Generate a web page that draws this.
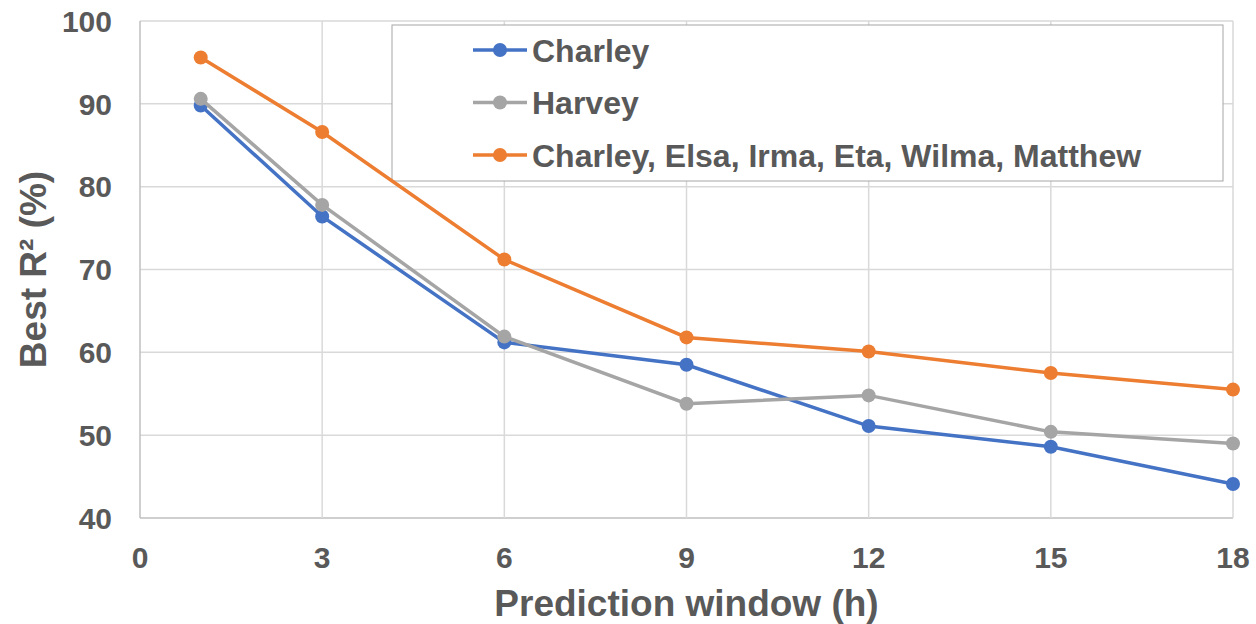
<!DOCTYPE html>
<html>
<head>
<meta charset="utf-8">
<script src="https://cdn.jsdelivr.net/npm/d3@7"></script>
<style>
  body { margin: 0; background: #fff; }
  text { font-family: 'Liberation Sans', Arial, sans-serif; font-weight: bold; fill: #595959; }
</style>
</head>
<body>
<div id="chart"></div>
<script>
const hours = [1, 3, 6, 9, 12, 15, 18]
const seriesNames = ['Charley', 'Harvey', 'Charley, Elsa, Irma, Eta, Wilma, Matthew']
const charley = [89.8, 76.4, 61.2, 58.5, 51.1, 48.6, 44.1]
const harvey = [90.6, 77.8, 61.9, 53.8, 54.8, 50.4, 49.0]
const combined = [95.6, 86.6, 71.2, 61.8, 60.1, 57.5, 55.5]
const xTicks = [0, 3, 6, 9, 12, 15, 18]
const yTicks = [40, 50, 60, 70, 80, 90, 100]

const colors = ['#4472C4', '#A5A5A5', '#ED7D31']

const width = 1256
const height = 624
const margin = { top: 21, left: 140, right: 23, bottom: 106 }

const svg = d3
  .select('#chart')
  .append('svg')
  .attr('width', width)
  .attr('height', height)

const xScale = d3
  .scaleLinear()
  .domain([0, 18])
  .range([margin.left, width - margin.right])

const yScale = d3
  .scaleLinear()
  .domain([40, 100])
  .range([height - margin.bottom, margin.top])

// gridlines
svg
  .selectAll('.hgrid')
  .data(yTicks)
  .enter()
  .append('line')
  .attr('x1', xScale(0))
  .attr('x2', xScale(18))
  .attr('y1', d => yScale(d))
  .attr('y2', d => yScale(d))
  .attr('stroke', d => (d === 40 ? '#bfbfbf' : '#d9d9d9'))
  .attr('stroke-width', 1.5)

svg
  .selectAll('.vgrid')
  .data(xTicks)
  .enter()
  .append('line')
  .attr('x1', d => xScale(d))
  .attr('x2', d => xScale(d))
  .attr('y1', yScale(100))
  .attr('y2', yScale(40))
  .attr('stroke', d => (d === 0 ? '#bfbfbf' : '#d9d9d9'))
  .attr('stroke-width', 1.5)

// tick labels
svg
  .selectAll('.ylab')
  .data(yTicks)
  .enter()
  .append('text')
  .attr('x', 112)
  .attr('y', d => yScale(d))
  .attr('dy', '0.36em')
  .attr('text-anchor', 'end')
  .attr('font-size', 30)
  .text(d => d)

svg
  .selectAll('.xlab')
  .data(xTicks)
  .enter()
  .append('text')
  .attr('x', d => xScale(d))
  .attr('y', 568)
  .attr('text-anchor', 'middle')
  .attr('font-size', 30)
  .text(d => d)

// axis titles
svg
  .append('text')
  .attr('x', (xScale(0) + xScale(18)) / 2)
  .attr('y', 616)
  .attr('text-anchor', 'middle')
  .attr('font-size', 37)
  .text('Prediction window (h)')

svg
  .append('text')
  .attr('transform', 'translate(46,' + yScale(70) + ') rotate(-90)')
  .attr('text-anchor', 'middle')
  .attr('font-size', 37)
  .text('Best R² (%)')

// legend box (drawn under lines)
const legend = svg.append('g')
legend
  .append('rect')
  .attr('x', 392)
  .attr('y', 25)
  .attr('width', 831)
  .attr('height', 156)
  .attr('fill', '#fff')
  .attr('stroke', '#a6a6a6')
  .attr('stroke-width', 1)

const allSeries = [charley, harvey, combined]

const line = d3
  .line()
  .x((d, i) => xScale(hours[i]))
  .y(d => yScale(d))

allSeries.forEach((values, k) => {
  svg
    .append('path')
    .datum(values)
    .attr('d', line)
    .attr('fill', 'none')
    .attr('stroke', colors[k])
    .attr('stroke-width', 3.5)

  svg
    .selectAll('.pt' + k)
    .data(values)
    .enter()
    .append('circle')
    .attr('cx', (d, i) => xScale(hours[i]))
    .attr('cy', d => yScale(d))
    .attr('r', 7)
    .attr('fill', colors[k])
})

// legend entries
seriesNames.forEach((name, k) => {
  const y = 50 + k * 52.5
  const g = svg.append('g')
  g.append('line')
    .attr('x1', 473)
    .attr('x2', 527)
    .attr('y1', y)
    .attr('y2', y)
    .attr('stroke', colors[k])
    .attr('stroke-width', 3.5)
  g.append('circle')
    .attr('cx', 500)
    .attr('cy', y)
    .attr('r', 7)
    .attr('fill', colors[k])
  g.append('text')
    .attr('x', 532)
    .attr('y', y)
    .attr('dy', '0.36em')
    .attr('font-size', 32)
    .text(name)
})
</script>
</body>
</html>
